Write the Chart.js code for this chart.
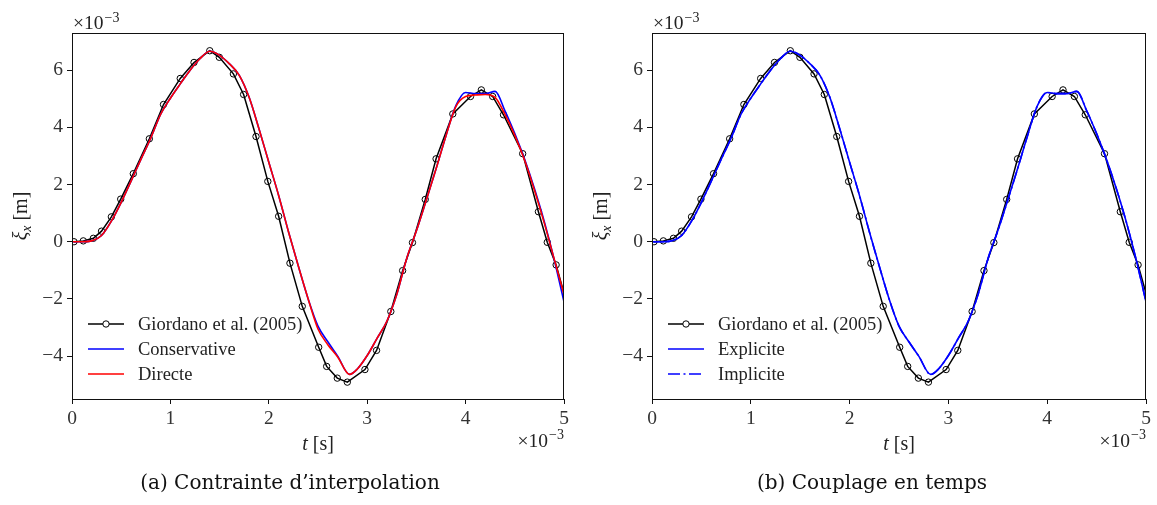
<!DOCTYPE html>
<html>
<head>
<meta charset="utf-8">
<script src="https://cdn.jsdelivr.net/npm/chart.js@4.4.1/dist/chart.umd.min.js"></script>
<style>
  body { margin: 0; background: #fff; width: 1157px; height: 505px; overflow: hidden; position: relative; }
  .box { position: absolute; top: 0; height: 505px; }
  .cap { position: absolute; top: 470px; font-family: "DejaVu Serif", serif; font-size: 20px; line-height: 24px;
         color: #111; white-space: nowrap; transform: translateX(-50%); }
</style>
</head>
<body>
<div class="box" style="left:0;width:580px"><canvas id="chartA" width="580" height="505"></canvas></div>
<div class="box" style="left:580px;width:577px"><canvas id="chartB" width="577" height="505"></canvas></div>
<div class="cap" style="left:290px">(a) Contrainte d’interpolation</div>
<div class="cap" style="left:872px">(b) Couplage en temps</div>

<script>
// temps en unités de 1e-3 s, déplacement en unités de 1e-3 m
var giordanoT  = [0.02, 0.115, 0.217, 0.30, 0.40, 0.495, 0.623, 0.786, 0.93, 1.10, 1.24, 1.40, 1.497, 1.64, 1.744,
                  1.87, 1.99, 2.10, 2.215, 2.34, 2.507, 2.588, 2.696, 2.798, 2.977, 3.095, 3.24, 3.36, 3.46, 3.59,
                  3.70, 3.87, 4.05, 4.16, 4.275, 4.385, 4.58, 4.74, 4.83, 4.92, 5.0];
var giordanoXi = [0, 0.03, 0.12, 0.37, 0.87, 1.49, 2.38, 3.60, 4.80, 5.71, 6.27, 6.68, 6.45, 5.87, 5.15,
                  3.68, 2.11, 0.89, -0.75, -2.26, -3.69, -4.36, -4.77, -4.91, -4.47, -3.80, -2.44, -1.01, -0.03, 1.48,
                  2.90, 4.47, 5.08, 5.31, 5.08, 4.44, 3.08, 1.05, -0.02, -0.81, -1.80];

var simT = [0, 0.1, 0.2, 0.3, 0.4, 0.5, 0.6, 0.7, 0.8, 0.9, 1.0, 1.1, 1.2, 1.3, 1.4, 1.5, 1.6, 1.7, 1.8, 1.9,
            2.0, 2.1, 2.2, 2.3, 2.4, 2.5, 2.6, 2.7, 2.82, 2.9, 3.0, 3.1, 3.2, 3.3, 3.4, 3.5, 3.6, 3.7, 3.8, 3.9,
            4.0, 4.1, 4.2, 4.3, 4.4, 4.5, 4.6, 4.7, 4.8, 4.9, 5.0];
var conservativeXi = [0, 0, 0.03, 0.22, 0.72, 1.38, 2.12, 2.88, 3.62, 4.45, 5.02, 5.52, 6.00, 6.40, 6.66, 6.52, 6.22, 5.82, 5.05, 3.95,
                      2.78, 1.62, 0.35, -0.85, -2.0, -2.95, -3.5, -4.0, -4.64, -4.45, -3.98, -3.38, -2.78, -1.85, -0.6, 0.38, 1.45, 2.55, 3.7, 4.75,
                      5.22, 5.18, 5.18, 5.26, 4.58, 3.78, 2.88, 1.85, 0.7, -0.62, -2.10];
var directeXi      = [0, 0, 0.03, 0.22, 0.72, 1.38, 2.12, 2.88, 3.62, 4.45, 5.02, 5.52, 6.00, 6.40, 6.66, 6.52, 6.22, 5.82, 5.05, 3.95,
                      2.78, 1.62, 0.35, -0.85, -2.0, -3.05, -3.6, -4.03, -4.64, -4.45, -3.98, -3.38, -2.78, -1.85, -0.6, 0.38, 1.45, 2.55, 3.7, 4.72,
                      5.08, 5.13, 5.15, 5.05, 4.45, 3.72, 2.85, 1.8, 0.65, -0.6, -1.85];
var expliciteXi = conservativeXi.slice();
var impliciteXi = conservativeXi.slice();

var xTicks = [0, 1, 2, 3, 4, 5];
var yTicks = [-4, -2, 0, 2, 4, 6];

function pts(xs, ys) {
  return xs.map(function (x, i) { return { x: x, y: ys[i] }; });
}

var serif = '"Liberation Serif", "DejaVu Serif", serif';

// cadre, titres d'axes, multiplicateurs et légende à la matplotlib
var decor = {
  id: 'decor',
  afterDraw: function (chart, args, opts) {
    var ctx = chart.ctx, a = chart.chartArea;
    ctx.save();
    ctx.strokeStyle = '#111';
    ctx.lineWidth = 1;
    ctx.strokeRect(Math.round(a.left) + 0.5, Math.round(a.top) + 0.5, Math.round(a.right - a.left) - 1, Math.round(a.bottom - a.top));

    ctx.fillStyle = '#222';
    ctx.textBaseline = 'alphabetic';

    // ×10^-3 en haut à gauche
    ctx.textAlign = 'left';
    ctx.font = '19.5px ' + serif;
    ctx.fillText('×10', a.left + 1, 29);
    var w = ctx.measureText('×10').width;
    ctx.font = '14px ' + serif;
    ctx.fillText('−3', a.left + 1 + w + 1, 21.5);

    // ×10^-3 en bas à droite
    ctx.font = '14px ' + serif;
    var ws = ctx.measureText('−3').width;
    ctx.fillText('−3', a.right - ws, 439);
    ctx.font = '19.5px ' + serif;
    var wm = ctx.measureText('×10').width;
    ctx.fillText('×10', a.right - ws - 1 - wm, 447);

    // t [s]
    ctx.font = 'italic 20px ' + serif;
    var wt = ctx.measureText('t').width;
    ctx.font = '20px ' + serif;
    var wu = ctx.measureText(' [s]').width;
    var x0 = (a.left + a.right) / 2 - (wt + wu) / 2;
    ctx.font = 'italic 20px ' + serif;
    ctx.fillText('t', x0, 450);
    ctx.font = '20px ' + serif;
    ctx.fillText(' [s]', x0 + wt, 450);

    // ξx [m]
    ctx.save();
    ctx.translate(a.left - 45, (a.top + a.bottom) / 2);
    ctx.rotate(-Math.PI / 2);
    ctx.font = 'italic 20px ' + serif;
    var w1 = ctx.measureText('ξ').width;
    ctx.font = 'italic 14px ' + serif;
    var w2 = ctx.measureText('x').width;
    ctx.font = '20px ' + serif;
    var w3 = ctx.measureText(' [m]').width;
    var s = -(w1 + w2 + w3) / 2;
    ctx.font = 'italic 20px ' + serif;
    ctx.fillText('ξ', s, 0);
    ctx.font = 'italic 14px ' + serif;
    ctx.fillText('x', s + w1, 4);
    ctx.font = '20px ' + serif;
    ctx.fillText(' [m]', s + w1 + w2, 0);
    ctx.restore();

    // légende
    var ds = chart.data.datasets;
    ctx.font = '18.5px ' + serif;
    ctx.textBaseline = 'middle';
    ds.forEach(function (d, i) {
      var y = a.bottom - 75 + i * 25;
      var lx0 = a.left + 16, lx1 = a.left + 52;
      ctx.strokeStyle = d.borderColor;
      ctx.lineWidth = d.borderWidth;
      ctx.setLineDash(d.borderDash || []);
      ctx.beginPath();
      ctx.moveTo(lx0, y);
      ctx.lineTo(lx1, y);
      ctx.stroke();
      ctx.setLineDash([]);
      if (d.marker) {
        ctx.lineWidth = 1;
        ctx.fillStyle = '#fff';
        ctx.beginPath();
        ctx.arc((lx0 + lx1) / 2, y, 3.2, 0, Math.PI * 2);
        ctx.fill();
        ctx.stroke();
      }
      ctx.fillStyle = '#222';
      ctx.fillText(d.label, a.left + 66, y + 1);
    });
    ctx.restore();
  }
};

function giordanoSet() {
  return {
    label: 'Giordano et al. (2005)',
    data: pts(giordanoT, giordanoXi),
    borderColor: '#000',
    borderWidth: 1.5,
    tension: 0,
    marker: true,
    pointStyle: 'circle',
    pointRadius: function (c) { return c.dataIndex < giordanoT.length - 1 ? 3.2 : 0; },
    pointBorderColor: '#000',
    pointBackgroundColor: 'rgba(0,0,0,0)',
    pointBorderWidth: 1,
    order: 3
  };
}

function simSet(label, ys, color, dash, order) {
  return {
    label: label,
    data: pts(simT, ys),
    borderColor: color,
    borderWidth: 1.6,
    borderDash: dash,
    cubicInterpolationMode: 'monotone',
    pointRadius: 0,
    order: order
  };
}

function makeOptions(rightPad) {
  return {
    responsive: false,
    animation: false,
    devicePixelRatio: 1,
    layout: { padding: { left: 0, right: rightPad, top: 33, bottom: 76 } },
    plugins: { legend: { display: false }, tooltip: { enabled: false } },
    scales: {
      x: {
        type: 'linear', min: 0, max: 5,
        afterBuildTicks: function (s) { s.ticks = xTicks.map(function (v) { return { value: v }; }); },
        afterFit: function (s) { s.height = 30; },
        grid: { drawOnChartArea: false, drawTicks: true, tickLength: 5, tickColor: '#111', tickWidth: 1 },
        border: { display: false },
        ticks: { padding: 3, color: '#333', font: { family: serif, size: 19.5 }, maxRotation: 0,
                 callback: function (v) { return String(v).replace('-', '−'); } }
      },
      y: {
        type: 'linear', min: -5.5, max: 7.3,
        afterBuildTicks: function (s) { s.ticks = yTicks.map(function (v) { return { value: v }; }); },
        afterFit: function (s) { s.width = 72; },
        grid: { drawOnChartArea: false, drawTicks: true, tickLength: 5, tickColor: '#111', tickWidth: 1 },
        border: { display: false },
        ticks: { padding: 4, color: '#333', font: { family: serif, size: 19.5 },
                 callback: function (v) { return String(v).replace('-', '−'); } }
      }
    }
  };
}

new Chart(document.getElementById('chartA'), {
  type: 'line',
  data: { datasets: [
    giordanoSet(),
    simSet('Conservative', conservativeXi, '#0000ff', [], 2),
    simSet('Directe', directeXi, '#ff0000', [], 1)
  ] },
  options: makeOptions(16),
  plugins: [decor]
});

new Chart(document.getElementById('chartB'), {
  type: 'line',
  data: { datasets: [
    giordanoSet(),
    simSet('Explicite', expliciteXi, '#0000ff', [], 2),
    simSet('Implicite', impliciteXi, '#0000ff', [12, 3.5, 2, 3.5], 1)
  ] },
  options: makeOptions(11),
  plugins: [decor]
});
</script>
</body>
</html>
